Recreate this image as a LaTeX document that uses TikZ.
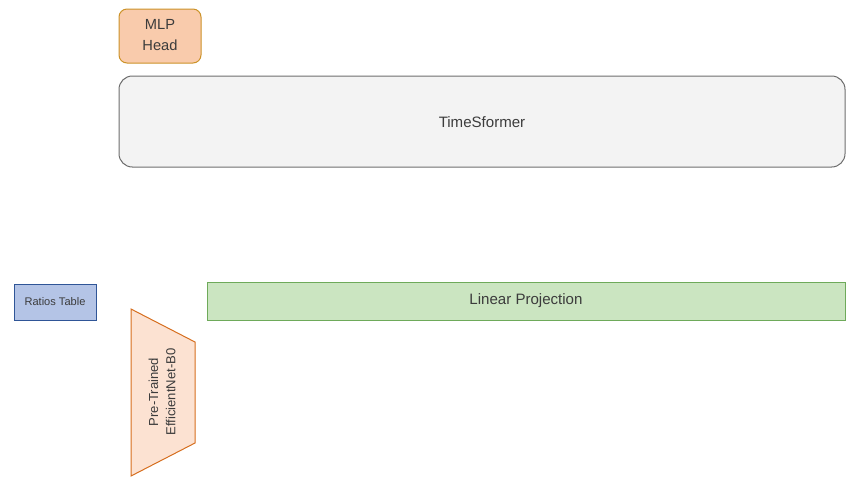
\documentclass[tikz,border=0pt]{standalone}
\usepackage{fontspec}
\setmainfont{Liberation Sans}
\definecolor{mlpfill}{RGB}{249,203,172}
\definecolor{mlpline}{RGB}{204,146,40}
\definecolor{tsfill}{RGB}{243,243,243}
\definecolor{tsline}{RGB}{110,110,110}
\definecolor{ratfill}{RGB}{180,196,230}
\definecolor{ratline}{RGB}{47,85,151}
\definecolor{linfill}{RGB}{203,229,193}
\definecolor{linline}{RGB}{110,170,90}
\definecolor{cnnfill}{RGB}{252,226,210}
\definecolor{cnnline}{RGB}{214,110,30}
\definecolor{txt}{RGB}{60,60,60}
\begin{document}
\begin{tikzpicture}[x=0.75pt,y=-0.75pt,
    lbl/.style={text=txt,font=\fontsize{11}{16}\selectfont,align=center},
    blk/.style={draw,line width=0.75pt}]
  \useasboundingbox (0,0) rectangle (853,480);
  % top part
  \draw[blk,mlpline,fill=mlpfill,rounded corners=6pt] (119,9) rectangle (201,63);
  \node[lbl] (mlp) at (160,35) {MLP\\Head};
  \draw[blk,tsline,fill=tsfill,rounded corners=10pt] (119,76) rectangle (845,167);
  \node[lbl,font=\fontsize{11.3}{14}\selectfont] (tsf) at (482,122) {TimeSformer};
  % bottom part
  \draw[blk,ratline,fill=ratfill] (14,284) rectangle (96,320);
  \node[lbl,font=\fontsize{8.3}{10}\selectfont] (ratio) at (55,302) {Ratios Table};
  \draw[blk,linline,fill=linfill] (207,282) rectangle (845,320);
  \node[lbl,font=\fontsize{11.3}{14}\selectfont] (proj) at (526,301) {Linear Projection};
  \draw[blk,cnnline,fill=cnnfill] (131,309) -- (195,342) -- (195,443) -- (131,476) -- cycle;
  \node[lbl,rotate=90,font=\fontsize{9.8}{13}\selectfont] (cnn) at (162,392) {Pre-Trained\\EfficientNet-B0};
\end{tikzpicture}
\end{document}
